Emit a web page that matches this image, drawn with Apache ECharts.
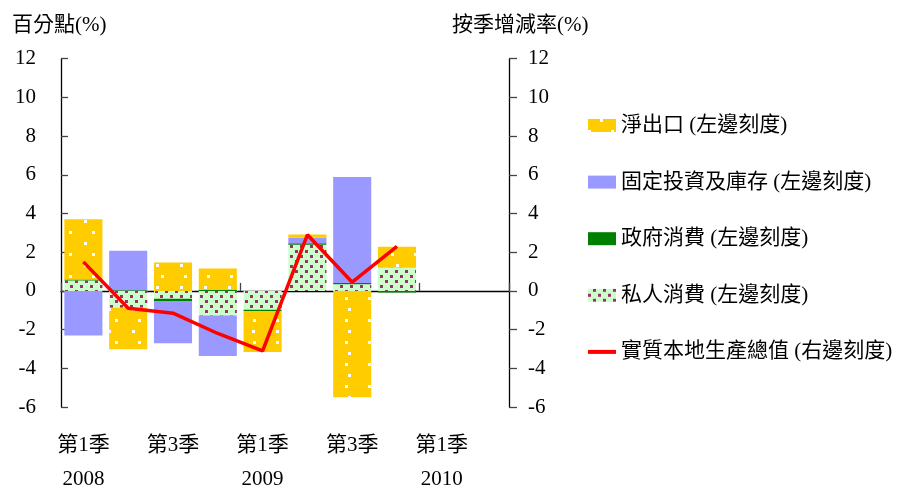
<!DOCTYPE html>
<html>
<head>
<meta charset="utf-8">
<script src="https://cdn.jsdelivr.net/npm/echarts@6/dist/echarts.min.js"></script>
<style>
html,body{margin:0;padding:0;background:#fff;}
#main{width:906px;height:493px;}
</style>
</head>
<body>
<div id="main"></div>
<script>
// ---- data ----
const categories = ['2008 Q1','2008 Q2','2008 Q3','2008 Q4','2009 Q1','2009 Q2','2009 Q3','2009 Q4','2010 Q1','2010 Q2'];
const tickLabels = ['第1季\n2008','','第3季','','第1季\n2009','','第3季','','第1季\n2010',''];
const privateConsumption    = [0.54, -0.87, -0.40, -1.27, -0.97, 2.38, 0.35, 1.20];
const governmentConsumption = [0.05,  0.04, -0.12,  0.05, -0.07, 0.08, 0.06, -0.08];
const fixedInvestment       = [-2.30, 2.04, -2.18, -2.10, 0.00, 0.30, 5.47, 0.00];
const netExports            = [3.11, -2.15, 1.47,  1.11, -2.12, 0.15, -5.50, 1.08];
const realGDP               = [1.5, -0.9, -1.15, -2.2, -3.1, 2.9, 0.45, 2.3];
const yTicks = {min: -6, max: 12, interval: 2};

const names = {
  nx: '淨出口 (左邊刻度)',
  inv: '固定投資及庫存 (左邊刻度)',
  gov: '政府消費 (左邊刻度)',
  pc: '私人消費 (左邊刻度)',
  gdp: '實質本地生產總值 (右邊刻度)'
};

const FONT = '"Liberation Serif", "Times New Roman", "Noto Sans CJK TC", serif';
const chart = echarts.init(document.getElementById('main'));

const pcDecal = {
  symbol: 'rect', symbolSize: 1, color: '#993366',
  dashArrayX: [[3, 7], [0, 5, 3, 2]], dashArrayY: [3, 2], rotation: 0
};
const nxDecal = {
  symbol: 'rect', symbolSize: 1, color: '#ffffff',
  dashArrayX: [[3, 20], [0, 11.5, 3, 8.5]], dashArrayY: [3, 8], rotation: 0
};

chart.setOption({
  animation: false,
  backgroundColor: '#fff',
  textStyle: {fontFamily: FONT},
  grid: {left: 61, right: 397, top: 58.7, bottom: 86, containLabel: false, outerBoundsMode: 'none'},
  graphic: [
    {type: 'text', left: 12, top: 15, style: {text: '百分點(%)', font: '21px ' + FONT, fill: '#000'}},
    {type: 'text', left: 452, top: 15, style: {text: '按季增減率(%)', font: '21px ' + FONT, fill: '#000'}}
  ],
  legend: {
    orient: 'vertical', left: 583, top: 109.5,
    itemWidth: 28, itemHeight: 13, itemGap: 34.6,
    textStyle: {fontFamily: FONT, fontSize: 21, color: '#000', lineHeight: 22},
    data: [
      {name: names.nx, icon: 'rect'},
      {name: names.inv, icon: 'rect'},
      {name: names.gov, icon: 'rect'},
      {name: names.pc, icon: 'rect'},
      {name: names.gdp, icon: 'path://M0,0 L28,0 L28,4 L0,4 Z', itemStyle: {color: '#FF0000'}}
    ]
  },
  xAxis: [
    {
      type: 'category', data: categories, boundaryGap: true, position: 'bottom',
      axisLine: {show: false, onZero: false},
      axisTick: {show: false},
      axisLabel: {
        interval: 0, margin: 21, color: '#000', fontFamily: FONT, fontSize: 21, lineHeight: 34,
        formatter: function (v, i) { return tickLabels[i]; }
      },
      splitLine: {show: false}
    },
    {
      type: 'category', data: categories, boundaryGap: true, position: 'bottom',
      axisLine: {show: true, onZero: true, onZeroAxisIndex: 0, lineStyle: {color: '#000', width: 1.3}},
      axisTick: {show: true, inside: true, length: 8, lineStyle: {color: '#444', width: 1.3},
        interval: function (i) { return i % 4 === 0; }},
      axisLabel: {show: false},
      splitLine: {show: false}
    }
  ],
  yAxis: [
    {
      type: 'value', position: 'left', min: yTicks.min, max: yTicks.max, interval: yTicks.interval,
      axisLine: {show: true, lineStyle: {color: '#000', width: 1.3}},
      axisTick: {show: true, inside: true, length: 7, lineStyle: {color: '#444', width: 1.3}},
      axisLabel: {margin: 25, color: '#000', fontFamily: FONT, fontSize: 21},
      splitLine: {show: false}
    },
    {
      type: 'value', position: 'right', min: yTicks.min, max: yTicks.max, interval: yTicks.interval,
      axisLine: {show: true, lineStyle: {color: '#000', width: 1.3}},
      axisTick: {show: true, inside: false, length: 8, lineStyle: {color: '#444', width: 1.3}},
      axisLabel: {margin: 19, color: '#000', fontFamily: FONT, fontSize: 21},
      splitLine: {show: false}
    }
  ],
  series: [
    {name: names.pc, type: 'bar', stack: 'gdp', barWidth: '85%', data: privateConsumption,
     itemStyle: {color: '#CCFFCC', decal: pcDecal}},
    {name: names.gov, type: 'bar', stack: 'gdp', barWidth: '85%', data: governmentConsumption,
     itemStyle: {color: '#008000'}},
    {name: names.inv, type: 'bar', stack: 'gdp', barWidth: '85%', data: fixedInvestment,
     itemStyle: {color: '#9999FF'}},
    {name: names.nx, type: 'bar', stack: 'gdp', barWidth: '85%', data: netExports,
     itemStyle: {color: '#FFCC00', decal: nxDecal}},
    {name: names.gdp, type: 'line', yAxisIndex: 1, data: realGDP, symbol: 'none', showSymbol: false, z: 10,
     lineStyle: {color: '#FF0000', width: 3.5}, itemStyle: {color: '#FF0000'}}
  ]
});
</script>
</body>
</html>
